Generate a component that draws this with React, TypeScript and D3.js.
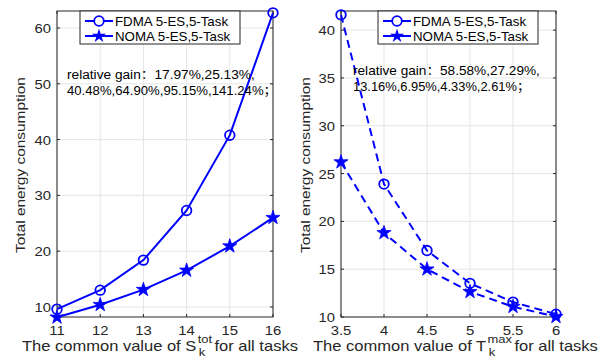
import React, { useEffect, useRef } from "react";
import * as d3 from "d3";

const leftX = [11, 12, 13, 14, 15, 16];
const leftFdma = [9.61, 13.01, 18.4, 27.29, 40.79, 62.72];
const leftNoma = [8.15, 10.4, 13.1, 16.55, 20.9, 26.0];
const leftYTicks = [10, 20, 30, 40, 50, 60];
const leftGain = ["relative gain：17.97%,25.13%,", "40.48%,64.90%,95.15%,141.24%；"];

const rightX = [3.5, 4, 4.5, 5, 5.5, 6];
const rightFdma = [41.6, 23.9, 16.95, 13.52, 11.56, 10.29];
const rightNoma = [26.2, 18.8, 15.0, 12.64, 11.08, 10.03];
const rightYTicks = [10, 15, 20, 25, 30, 35, 40];
const rightGain = ["relative gain：58.58%,27.29%,", "13.16%,6.95%,4.33%,2.61%；"];

const seriesNames = ["FDMA 5-ES,5-Task", "NOMA 5-ES,5-Task"];

const FONT = "'Liberation Sans', Arial, 'Noto Sans CJK SC', sans-serif";
const AXIS = "#262626";
const BLUE = "#0000ff";

const App = () => {
  const ref = useRef(null);

  useEffect(() => {
    if (!ref.current) return;
    const svg = d3.select(ref.current);
    svg.selectAll("*").remove();

    // text squeezed/stretched horizontally to a given width (or a fixed factor)
    const label = (parent, x, y, str, size, anchor, fill, width) => {
      const t = parent.append("text")
        .attr("text-anchor", anchor)
        .attr("font-size", size)
        .attr("fill", fill)
        .attr("font-family", FONT)
        .text(str);
      let sx = 1;
      if (width > 10) sx = width / t.node().getComputedTextLength();
      else if (width) sx = width;
      t.attr("transform", `translate(${x},${y}) scale(${sx},1)`);
      return t;
    };

    const drawPanel = (opts) => {
      const { x0, x1, y0, y1, xs, fdma, noma, xDomain, yDomain, yTicks, dashed, legendX, gain, gainX, gainY, gainW, sup, labelX, labelW, ylabelX } = opts;
      const x = d3.scaleLinear().domain(xDomain).range([x0, x1]);
      const y = d3.scaleLinear().domain(yDomain).range([y1, y0]);
      const g = svg.append("g");

      g.append("rect").attr("x", x0).attr("y", y0).attr("width", x1 - x0).attr("height", y1 - y0).attr("fill", "white");

      // grid
      xs.forEach((d) => {
        g.append("line").attr("x1", x(d)).attr("x2", x(d)).attr("y1", y0).attr("y2", y1)
          .attr("stroke", "#e5e5e5").attr("stroke-width", 1);
      });
      yTicks.forEach((d) => {
        g.append("line").attr("x1", x0).attr("x2", x1).attr("y1", y(d)).attr("y2", y(d))
          .attr("stroke", "#e5e5e5").attr("stroke-width", 1);
      });

      // box + ticks
      g.append("rect").attr("x", x0).attr("y", y0).attr("width", x1 - x0).attr("height", y1 - y0)
        .attr("fill", "none").attr("stroke", AXIS).attr("stroke-width", 1);
      xs.forEach((d) => {
        g.append("line").attr("x1", x(d)).attr("x2", x(d)).attr("y1", y1).attr("y2", y1 - 3).attr("stroke", AXIS);
        g.append("line").attr("x1", x(d)).attr("x2", x(d)).attr("y1", y0).attr("y2", y0 + 3).attr("stroke", AXIS);
        label(g, x(d), y1 + 18, d, 13.5, "middle", AXIS, 1.1);
      });
      yTicks.forEach((d) => {
        g.append("line").attr("x1", x0).attr("x2", x0 + 3).attr("y1", y(d)).attr("y2", y(d)).attr("stroke", AXIS);
        g.append("line").attr("x1", x1).attr("x2", x1 - 3).attr("y1", y(d)).attr("y2", y(d)).attr("stroke", AXIS);
        label(g, x0 - 6, y(d) + 5, d, 13.5, "end", AXIS, 1.1);
      });

      // y label
      const yl = g.append("text").attr("text-anchor", "middle").attr("font-size", 13.5)
        .attr("fill", AXIS).attr("font-family", FONT).text("Total energy consumption");
      const ys = 176 / yl.node().getComputedTextLength();
      yl.attr("transform", `translate(${ylabelX},${(y0 + y1) / 2 + 1}) rotate(-90) scale(${ys},1)`);

      // x label with sub/superscript, fitted to the original width
      const xg = g.append("g").attr("fill", AXIS).attr("font-family", FONT);
      const t1 = xg.append("text").attr("font-size", 14).text(`The common value of ${sup[0]}`);
      const w1 = t1.node().getComputedTextLength();
      const tsup = xg.append("text").attr("x", w1 + 1).attr("y", -8).attr("font-size", 11).text(sup[1]);
      xg.append("text").attr("x", w1 + 2).attr("y", 5).attr("font-size", 11).text("k");
      const w2 = tsup.node().getComputedTextLength();
      const t3 = xg.append("text").attr("x", w1 + w2 + 3).attr("font-size", 14).text(" for all tasks");
      const total = w1 + w2 + 3 + t3.node().getComputedTextLength();
      xg.attr("transform", `translate(${labelX},${y1 + 34}) scale(${labelW / total},1)`);

      // lines
      const line = d3.line().x((d) => x(d[0])).y((d) => y(d[1]));
      const star = d3.symbol().type(d3.symbolStar).size(62);
      [fdma, noma].forEach((vals, i) => {
        const pts = xs.map((d, j) => [d, vals[j]]);
        g.append("path").attr("d", line(pts)).attr("fill", "none").attr("stroke", BLUE)
          .attr("stroke-width", 2).attr("stroke-dasharray", dashed ? "8,5" : null);
        pts.forEach((p) => {
          if (i === 0) {
            g.append("circle").attr("cx", x(p[0])).attr("cy", y(p[1])).attr("r", 4.8)
              .attr("fill", "none").attr("stroke", BLUE).attr("stroke-width", 1.8);
          } else {
            g.append("path").attr("d", star()).attr("transform", `translate(${x(p[0])},${y(p[1])})`)
              .attr("fill", BLUE).attr("stroke", BLUE).attr("stroke-width", 0.8);
          }
        });
      });

      // legend
      const lg = g.append("g").attr("transform", `translate(${legendX},${y0})`);
      lg.append("rect").attr("width", 160).attr("height", 33).attr("fill", "white")
        .attr("stroke", AXIS).attr("stroke-width", 1);
      seriesNames.forEach((name, i) => {
        const ly = 10 + i * 15;
        lg.append("line").attr("x1", 5).attr("x2", 33).attr("y1", ly).attr("y2", ly)
          .attr("stroke", BLUE).attr("stroke-width", 2);
        if (i === 0) {
          lg.append("circle").attr("cx", 19).attr("cy", ly).attr("r", 4.8)
            .attr("fill", "white").attr("stroke", BLUE).attr("stroke-width", 1.8);
        } else {
          lg.append("path").attr("d", star()).attr("transform", `translate(19,${ly})`).attr("fill", BLUE);
        }
        label(lg, 35, ly + 5, name, 13.3, "start", "black", 1);
      });

      // gain annotation
      gain.forEach((t, i) => {
        label(g, gainX, gainY + i * 16, t, 12, "start", "black", gainW[i]);
      });
    };

    drawPanel({
      x0: 57, x1: 273, y0: 11, y1: 317, xs: leftX, fdma: leftFdma, noma: leftNoma,
      xDomain: [11, 16], yDomain: [8.2, 63.05], yTicks: leftYTicks, dashed: false,
      legendX: 80, gain: leftGain, gainX: 67, gainY: 79, gainW: [188, 210],
      sup: ["S", "tot"], labelX: 22, labelW: 276, ylabelX: 25,
    });
    drawPanel({
      x0: 341, x1: 556, y0: 11, y1: 317, xs: rightX, fdma: rightFdma, noma: rightNoma,
      xDomain: [3.5, 6], yDomain: [10, 42], yTicks: rightYTicks, dashed: true,
      legendX: 378, gain: rightGain, gainX: 353, gainY: 75, gainW: [187, 177],
      sup: ["T", "max"], labelX: 313, labelW: 285, ylabelX: 310,
    });
  }, []);

  return <svg ref={ref} width={609} height={358} style={{ display: "block", position: "absolute", left: 0, top: 0, background: "white" }}></svg>;
};

export default App;
